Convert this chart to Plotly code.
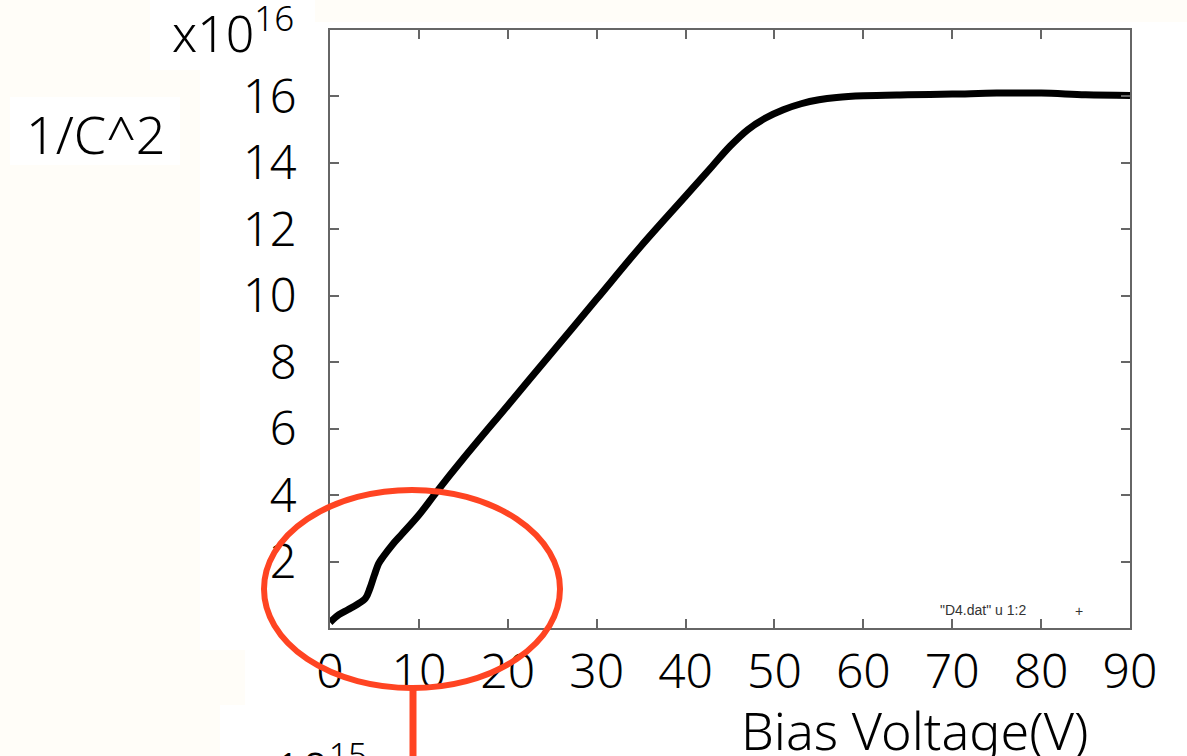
import plotly.graph_objects as go

# Data (units: V, x10^16)
voltage = [0, 1, 2, 3, 4, 4.5, 5, 5.5, 6, 7, 8, 10, 12, 15, 20, 25, 30, 35, 40, 43, 45, 47, 49, 51, 53, 55, 57, 60, 65, 70, 75, 80, 85, 90]
inv_c2 = [0.17, 0.4, 0.55, 0.7, 0.9, 1.2, 1.6, 1.95, 2.15, 2.5, 2.8, 3.4, 4.1, 5.1, 6.7, 8.3, 9.9, 11.5, 13.0, 13.9, 14.5, 15.0, 15.35, 15.6, 15.78, 15.9, 15.97, 16.02, 16.05, 16.07, 16.1, 16.1, 16.05, 16.03]
x_ticks = [0, 10, 20, 30, 40, 50, 60, 70, 80, 90]
y_ticks = [2, 4, 6, 8, 10, 12, 14, 16]

W, H = 1187, 756
L, R, T, B = 330, 1130, 30, 628

def px(x):
    return (x - L) / (R - L)

def py(y):
    return (B - y) / (B - T)

FONT = "Noto Sans"
WT = 300

fig = go.Figure()
fig.add_trace(go.Scatter(x=voltage, y=inv_c2, mode="lines",
                         line=dict(color="black", width=7, shape="spline"),
                         showlegend=False, hoverinfo="skip"))

shapes = []
# white background patches
for (x0, y0, x1, y1) in [(200, 22, 1187, 650), (245, 650, 1187, 705), (220, 705, 1187, 756),
                         (150, 0, 315, 70), (10, 97, 180, 165)]:
    shapes.append(dict(type="rect", xref="paper", yref="paper",
                       x0=px(x0), x1=px(x1), y0=py(y1), y1=py(y0),
                       fillcolor="white", line=dict(width=0), layer="below"))
# red ellipse and stem
shapes.append(dict(type="circle", xref="paper", yref="paper",
                   x0=px(264), x1=px(560), y0=py(688), y1=py(490),
                   line=dict(color="#ff4422", width=6), layer="above"))
shapes.append(dict(type="line", xref="paper", yref="paper",
                   x0=px(413), x1=px(413), y0=py(688), y1=py(760),
                   line=dict(color="#ff4422", width=7), layer="above"))

annotations = [
    dict(text="x10<sup>16</sup>", x=px(170), y=py(30), xref="paper", yref="paper",
         xanchor="left", yanchor="middle", showarrow=False,
         font=dict(family=FONT, size=50, color="black", weight=WT)),
    dict(text="1/C^2", x=px(96), y=py(133), xref="paper", yref="paper",
         xanchor="center", yanchor="middle", showarrow=False,
         font=dict(family=FONT, size=52, color="black", weight=WT)),
    dict(text="Bias Voltage(V)", x=px(914), y=py(729), xref="paper", yref="paper",
         xanchor="center", yanchor="middle", showarrow=False,
         font=dict(family=FONT, size=52, color="black", weight=WT)),
    dict(text='"D4.dat" u 1:2', x=px(983), y=py(610), xref="paper", yref="paper",
         xanchor="center", yanchor="middle", showarrow=False,
         font=dict(family="Liberation Sans", size=14, color="#333")),
    dict(text="+", x=px(1079), y=py(611), xref="paper", yref="paper",
         xanchor="center", yanchor="middle", showarrow=False,
         font=dict(family="Liberation Sans", size=14, color="#333")),
    dict(text="10<sup>15</sup>", x=px(272), y=py(729), xref="paper", yref="paper",
         xanchor="left", yanchor="top", showarrow=False,
         font=dict(family=FONT, size=48, color="black", weight=WT)),
]

fig.update_layout(
    width=W, height=H,
    margin=dict(l=L, r=W - R, t=T, b=H - B, pad=0, autoexpand=False),
    paper_bgcolor="#fffdf8", plot_bgcolor="white",
    shapes=shapes, annotations=annotations,
    font=dict(family=FONT, size=46, color="black"),
    xaxis=dict(range=[0, 90], tickvals=x_ticks, ticktext=[str(v) for v in x_ticks],
               showgrid=False, zeroline=False, showline=True, linecolor="#666", linewidth=2,
               mirror="ticks", ticks="inside", ticklen=9, tickwidth=2, tickcolor="#666",
               ticklabelstandoff=0,
               tickfont=dict(family=FONT, size=48, color="black", weight=WT)),
    yaxis=dict(range=[0, 18], tickvals=y_ticks, ticktext=[str(v) for v in y_ticks],
               showgrid=False, zeroline=False, showline=True, linecolor="#666", linewidth=2,
               mirror="ticks", ticks="inside", ticklen=9, tickwidth=2, tickcolor="#666",
               ticklabelstandoff=22,
               tickfont=dict(family=FONT, size=47, color="black", weight=WT)),
)

fig.write_html("out.html", config={"displayModeBar": False},
               post_script="document.body.style.margin='0';document.body.style.overflow='hidden';")
